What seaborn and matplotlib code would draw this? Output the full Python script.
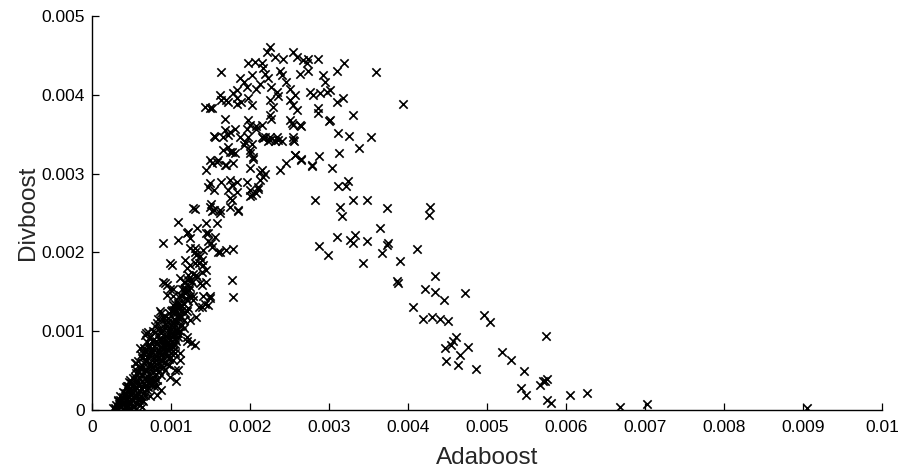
import matplotlib
matplotlib.use("Agg")
import matplotlib.pyplot as plt
import numpy as np
import pandas as pd
import seaborn as sns

# All coordinates below are in units of 1e-3 (Adaboost, Divboost).

# Dense lower band of the scatter
band_pts = [
    (0.29, 0.02), (0.33, 0.01), (0.36, 0.03), (0.39, 0.01), (0.43, 0.02), (0.46, 0.01), (0.52, 0.03), (0.56, 0.01),
    (0.30, 0.06), (0.34, 0.07), (0.37, 0.05), (0.41, 0.08), (0.44, 0.06), (0.48, 0.07), (0.53, 0.05), (0.58, 0.08), (0.61, 0.06),
    (0.33, 0.11), (0.36, 0.12), (0.40, 0.10), (0.43, 0.13), (0.47, 0.11), (0.51, 0.12), (0.55, 0.10), (0.60, 0.12), (0.65, 0.11),
    (0.35, 0.17), (0.39, 0.16), (0.42, 0.18), (0.46, 0.17), (0.50, 0.19), (0.53, 0.16), (0.57, 0.18), (0.62, 0.17), (0.67, 0.19),
    (0.39, 0.23), (0.42, 0.22), (0.46, 0.24), (0.50, 0.23), (0.54, 0.25), (0.57, 0.22), (0.61, 0.24), (0.66, 0.23), (0.70, 0.25),
    (0.43, 0.29), (0.47, 0.28), (0.51, 0.30), (0.55, 0.29), (0.58, 0.31), (0.62, 0.28), (0.67, 0.30), (0.71, 0.29), (0.75, 0.31),
    (0.47, 0.35), (0.50, 0.34), (0.54, 0.36), (0.58, 0.35), (0.63, 0.37), (0.66, 0.34), (0.70, 0.36), (0.75, 0.35), (0.79, 0.37),
    (0.52, 0.41), (0.55, 0.42), (0.59, 0.40), (0.63, 0.43), (0.67, 0.41), (0.71, 0.42), (0.76, 0.40), (0.80, 0.43),
    (0.56, 0.47), (0.60, 0.48), (0.64, 0.46), (0.68, 0.49), (0.72, 0.47), (0.77, 0.48), (0.81, 0.46), (0.85, 0.49),
    (0.61, 0.53), (0.65, 0.55), (0.69, 0.52), (0.73, 0.56), (0.77, 0.54), (0.82, 0.53), (0.86, 0.55), (0.90, 0.54),
    (0.66, 0.60), (0.69, 0.62), (0.73, 0.59), (0.78, 0.61), (0.81, 0.63), (0.85, 0.60), (0.89, 0.62), (0.93, 0.61),
    (0.70, 0.67), (0.74, 0.69), (0.78, 0.66), (0.82, 0.68), (0.87, 0.70), (0.90, 0.67), (0.95, 0.69),
    (0.74, 0.74), (0.78, 0.76), (0.83, 0.73), (0.86, 0.75), (0.90, 0.77), (0.94, 0.74), (0.98, 0.76),
    (0.78, 0.81), (0.82, 0.83), (0.86, 0.80), (0.90, 0.82), (0.94, 0.84), (0.98, 0.81), (1.02, 0.83),
    (0.81, 0.88), (0.85, 0.90), (0.89, 0.87), (0.93, 0.89), (0.97, 0.91), (1.01, 0.88), (1.05, 0.90),
    (0.84, 0.95), (0.88, 0.97), (0.92, 0.94), (0.96, 0.96), (1.00, 0.98), (1.04, 0.95),
    (0.88, 1.02), (0.92, 1.04), (0.96, 1.01), (1.00, 1.03), (1.04, 1.05), (1.08, 1.02),
    (0.92, 1.09), (0.96, 1.11), (1.00, 1.08), (1.04, 1.10), (1.08, 1.12),
    (0.96, 1.17), (1.00, 1.19), (1.04, 1.16), (1.08, 1.18), (1.12, 1.20),
    (1.00, 1.25), (1.04, 1.27), (1.08, 1.24), (1.13, 1.26),
    (1.05, 1.34), (1.09, 1.36), (1.13, 1.33), (1.17, 1.35),
    (1.10, 1.43), (1.14, 1.45), (1.19, 1.42),
    (1.14, 1.53), (1.18, 1.55), (1.23, 1.52),
    (1.18, 1.63), (1.22, 1.65), (1.27, 1.62),
    (0.62, 0.70), (0.66, 0.78), (0.70, 0.86), (0.74, 0.93), (0.77, 1.00), (0.80, 1.07), (0.84, 1.15),
    (0.58, 0.62), (0.55, 0.52), (0.97, 0.64), (1.00, 0.72), (1.03, 0.80), (1.06, 0.87), (1.09, 0.93),
    (1.12, 1.00), (1.14, 1.08), (1.16, 1.14), (0.92, 0.50), (0.88, 0.44), (0.83, 0.38), (0.78, 0.30),
    (0.64, 0.66), (0.68, 0.73), (0.72, 0.81), (0.76, 0.88), (0.95, 0.58), (0.99, 0.67), (1.02, 0.75),
    (1.05, 0.83), (1.08, 0.97), (1.11, 1.06), (0.84, 0.64), (0.88, 0.71), (0.92, 0.79), (0.96, 0.86),
]

# Scattered points around the lower band
fringe_pts = [
    (0.86, 1.25), (0.90, 1.18), (0.97, 1.23), (1.07, 1.27), (1.11, 1.18), (1.20, 1.25), (1.24, 1.14), (1.32, 1.18),
    (0.69, 0.97), (0.73, 0.93), (0.80, 0.99), (0.86, 1.04), (0.95, 1.06), (1.03, 1.10), (1.09, 0.97), (1.16, 1.04),
    (1.20, 0.93), (0.61, 0.78), (0.65, 0.72), (0.71, 0.80), (0.56, 0.59), (0.61, 0.55), (0.69, 0.63), (0.48, 0.38),
    (0.52, 0.32), (0.44, 0.30), (0.59, 0.40), (1.07, 0.36), (1.09, 0.51), (1.11, 0.63), (1.05, 0.72), (0.97, 0.80),
    (0.86, 0.89), (1.30, 0.82), (1.26, 0.85), (0.88, 1.23), (1.01, 1.27), (1.09, 1.18), (1.18, 1.23), (0.82, 1.10),
    (0.90, 1.14), (0.67, 0.95), (0.71, 0.99), (1.01, 0.97), (1.20, 0.87), (0.67, 0.76), (0.76, 0.74), (0.88, 0.80),
    (0.99, 0.78), (1.11, 0.72), (0.54, 0.59), (0.59, 0.55), (0.67, 0.51), (0.76, 0.55), (0.88, 0.63), (0.97, 0.57),
    (1.05, 0.51), (1.03, 0.63), (0.99, 0.42), (0.46, 0.30), (0.50, 0.25), (0.59, 0.32), (0.71, 0.34), (0.82, 0.30),
    (0.88, 0.25), (0.33, 0.13), (0.38, 0.085), (0.46, 0.11), (0.54, 0.17), (0.63, 0.13), (0.73, 0.17), (0.82, 0.19),
    (0.27, 0.02), (0.31, 0.00), (0.42, 0.04), (0.50, 0.02), (0.63, 0.04),
]

# Rising section between the band and the crest
rise_pts = [
    (1.09, 2.39), (0.90, 2.12), (1.09, 2.16), (1.22, 2.26), (1.33, 2.31), (1.45, 2.24), (1.24, 2.05), (1.30, 2.01),
    (1.41, 2.03), (1.47, 2.14), (1.52, 2.07), (1.60, 2.01), (1.78, 2.04), (0.99, 1.86), (1.01, 1.84), (1.18, 1.90),
    (1.24, 1.84), (1.20, 1.80), (1.35, 1.86), (1.39, 1.90), (1.11, 1.67), (1.16, 1.63), (1.22, 1.71), (1.28, 1.73),
    (1.33, 1.69), (1.39, 1.75), (1.45, 1.63), (0.90, 1.63), (0.95, 1.59), (1.03, 1.54), (1.18, 1.48), (1.24, 1.44),
    (1.28, 1.40), (1.41, 1.44), (1.49, 1.42), (1.77, 1.65), (1.79, 1.43), (1.03, 1.33), (1.11, 1.31), (1.22, 1.29),
    (1.39, 1.31), (1.47, 1.33), (1.51, 2.62), (1.54, 2.54), (1.62, 2.50), (1.58, 2.37), (1.45, 2.37), (1.47, 2.24),
    (1.56, 2.20), (1.51, 2.12), (1.62, 2.01), (1.70, 2.03), (1.20, 2.24), (1.24, 2.18), (1.30, 2.05), (1.32, 1.97),
    (1.37, 1.95), (1.30, 1.86), (1.41, 1.84), (1.45, 1.78), (1.32, 1.71), (1.26, 1.65), (1.37, 1.61), (1.24, 1.56),
    (0.92, 1.61), (0.99, 1.54), (0.95, 1.46), (1.03, 1.44), (1.09, 1.33), (1.11, 1.46), (1.18, 1.52), (1.20, 1.40),
    (1.28, 1.44), (1.39, 1.59), (1.49, 1.44), (1.43, 1.35), (1.35, 1.31),
]

# Upper flank below the crest
flank_pts = [
    (1.94, 3.40), (1.92, 3.36), (2.02, 3.38), (2.17, 3.45), (2.25, 3.43), (2.36, 3.43), (2.55, 3.43), (1.72, 3.34),
    (1.77, 3.28), (1.81, 3.26), (2.00, 3.30), (2.04, 3.21), (1.49, 3.17), (1.60, 3.17), (1.45, 3.05), (1.70, 3.11),
    (1.79, 3.13), (2.00, 3.07), (2.15, 3.05), (2.19, 3.00), (2.38, 3.05), (2.46, 3.13), (2.57, 3.24), (2.65, 3.17),
    (2.78, 3.11), (1.49, 2.88), (1.47, 2.83), (1.54, 2.79), (1.64, 2.90), (1.75, 2.92), (1.77, 2.86), (1.83, 2.90),
    (1.96, 2.90), (2.10, 2.81), (2.13, 2.92), (1.72, 2.79), (1.75, 2.69), (1.77, 2.66), (1.83, 2.77), (2.00, 2.71),
    (1.28, 2.56), (1.49, 2.58), (1.52, 2.52), (1.62, 2.54), (1.75, 2.58), (1.85, 2.54), (1.52, 3.13), (1.58, 3.15),
    (1.68, 3.11), (1.66, 3.30), (1.75, 3.28), (2.32, 3.42), (2.40, 3.42), (2.23, 3.42), (2.00, 3.26), (2.04, 3.19),
    (2.13, 3.02), (2.17, 2.96), (2.00, 2.79), (2.08, 2.75), (2.02, 2.73), (2.10, 2.83), (1.85, 2.53), (1.30, 2.55),
]

# Crest of the hump
crest_pts = [
    (1.64, 4.29), (2.25, 4.61), (2.21, 4.55), (1.98, 4.40), (2.06, 4.42), (2.15, 4.40), (2.32, 4.48), (2.42, 4.46),
    (2.55, 4.55), (2.59, 4.48), (2.67, 4.44), (2.74, 4.46), (2.86, 4.46), (2.72, 4.40), (3.10, 4.31), (3.19, 4.40),
    (1.87, 4.21), (1.92, 4.17), (2.02, 4.25), (2.17, 4.34), (2.19, 4.27), (2.23, 4.21), (2.38, 4.31), (2.40, 4.25),
    (2.63, 4.27), (2.74, 4.31), (2.93, 4.25), (2.95, 4.17), (1.83, 4.06), (1.79, 4.02), (1.96, 4.10), (2.08, 4.08),
    (2.13, 4.14), (2.27, 4.10), (2.34, 4.04), (2.36, 3.98), (2.46, 4.17), (2.51, 4.08), (2.57, 4.00), (2.76, 4.04),
    (2.80, 4.00), (2.89, 4.02), (2.97, 4.04), (3.01, 4.06), (3.10, 3.91), (3.18, 3.96), (1.43, 3.85), (1.49, 3.83),
    (1.64, 3.93), (1.72, 3.91), (1.83, 3.96), (1.89, 3.91), (1.98, 3.96), (2.02, 3.87), (2.25, 3.93), (2.29, 3.85),
    (2.51, 3.93), (2.55, 3.87), (2.59, 3.81), (2.86, 3.83), (2.86, 3.77), (3.01, 3.68), (3.30, 3.74), (1.68, 3.70),
    (1.68, 3.55), (1.75, 3.53), (1.81, 3.57), (1.98, 3.68), (2.00, 3.62), (2.08, 3.60), (2.15, 3.62), (2.25, 3.74),
    (2.27, 3.70), (2.51, 3.68), (2.55, 3.62), (1.54, 3.48), (1.56, 3.47), (1.66, 3.47), (1.72, 3.49), (1.87, 3.47),
    (1.98, 3.47), (2.15, 3.46), (2.19, 3.46), (2.25, 3.47), (2.34, 3.46), (2.55, 3.46), (1.52, 3.83), (1.83, 3.89),
    (1.96, 3.57), (2.08, 3.57), (1.62, 4.00), (1.70, 3.93), (2.53, 3.64), (2.63, 3.62), (2.65, 3.60),
]

# Right side of the hump
shoulder_pts = [
    (3.00, 3.67), (3.11, 3.52), (3.26, 3.48), (3.53, 3.46), (3.38, 3.33), (2.56, 3.42), (2.57, 3.24), (2.65, 3.18),
    (2.88, 3.22), (3.13, 3.26), (2.78, 3.10), (3.04, 3.07), (3.12, 2.84), (3.22, 2.84), (3.24, 2.91), (2.82, 2.67),
    (3.31, 2.67), (3.48, 2.67), (3.14, 2.58), (3.16, 2.46), (3.73, 2.56), (3.65, 2.31), (3.10, 2.20), (3.27, 2.16),
    (3.33, 2.22), (3.31, 2.12), (3.48, 2.14), (2.88, 2.08), (2.99, 1.97), (3.43, 1.87), (3.94, 3.88), (3.60, 4.29),
    (4.28, 2.57), (4.26, 2.47),
]

# Long descending tail
tail_pts = [
    (3.75, 2.12), (3.73, 2.09), (3.67, 1.99), (4.12, 2.04), (3.90, 1.89), (4.34, 1.70), (3.86, 1.64), (3.88, 1.61),
    (4.21, 1.54), (4.34, 1.50), (4.72, 1.48), (4.46, 1.39), (4.06, 1.31), (4.19, 1.15), (4.30, 1.18), (4.40, 1.16),
    (4.51, 1.13), (4.96, 1.20), (5.04, 1.12), (5.75, 0.94), (4.61, 0.92), (4.57, 0.87), (4.55, 0.82), (4.47, 0.79),
    (4.76, 0.80), (4.66, 0.70), (4.48, 0.62), (4.63, 0.57), (4.86, 0.52), (5.19, 0.74), (5.31, 0.63), (5.47, 0.49),
    (5.76, 0.39), (5.73, 0.37), (5.71, 0.36), (5.67, 0.31), (5.43, 0.28), (5.49, 0.19), (5.76, 0.13), (5.81, 0.085),
    (6.05, 0.19), (6.27, 0.21), (6.68, 0.04), (7.02, 0.08), (9.05, 0.02),
]

x_ticks = [0.0, 0.001, 0.002, 0.003, 0.004, 0.005, 0.006, 0.007, 0.008, 0.009, 0.01]
x_tick_labels = ["0", "0.001", "0.002", "0.003", "0.004", "0.005", "0.006", "0.007", "0.008", "0.009", "0.01"]
y_ticks = [0.0, 0.001, 0.002, 0.003, 0.004, 0.005]
y_tick_labels = ["0", "0.001", "0.002", "0.003", "0.004", "0.005"]

all_pts = band_pts + fringe_pts + rise_pts + flank_pts + crest_pts + shoulder_pts + tail_pts
df = pd.DataFrame(all_pts, columns=["Adaboost", "Divboost"]) * 1e-3

sns.set_theme(style="ticks")
plt.rcParams["font.family"] = ["Liberation Sans", "DejaVu Sans"]

fig = plt.figure(figsize=(9.01, 4.76), dpi=100)
ax = fig.add_axes([0.102, 0.139, 0.877, 0.827])

sns.scatterplot(data=df, x="Adaboost", y="Divboost", marker="x", color="black",
                s=36, linewidth=1.2, ax=ax, legend=False)

ax.set_xlim(0, 0.01)
ax.set_ylim(0, 0.005)
ax.set_xticks(x_ticks)
ax.set_xticklabels(x_tick_labels)
ax.set_yticks(y_ticks)
ax.set_yticklabels(y_tick_labels)

sns.despine(ax=ax)
for side in ("left", "bottom"):
    ax.spines[side].set_linewidth(1.0)
    ax.spines[side].set_color("black")
ax.tick_params(direction="in", length=5, width=0.9, colors="black", labelsize=12.5, pad=5)
ax.tick_params(axis="x", pad=7)

ax.set_xlabel("Adaboost", fontsize=17.5, labelpad=9)
ax.set_ylabel("Divboost", fontsize=17.5, labelpad=2)

fig.savefig("out.png", dpi=100)
